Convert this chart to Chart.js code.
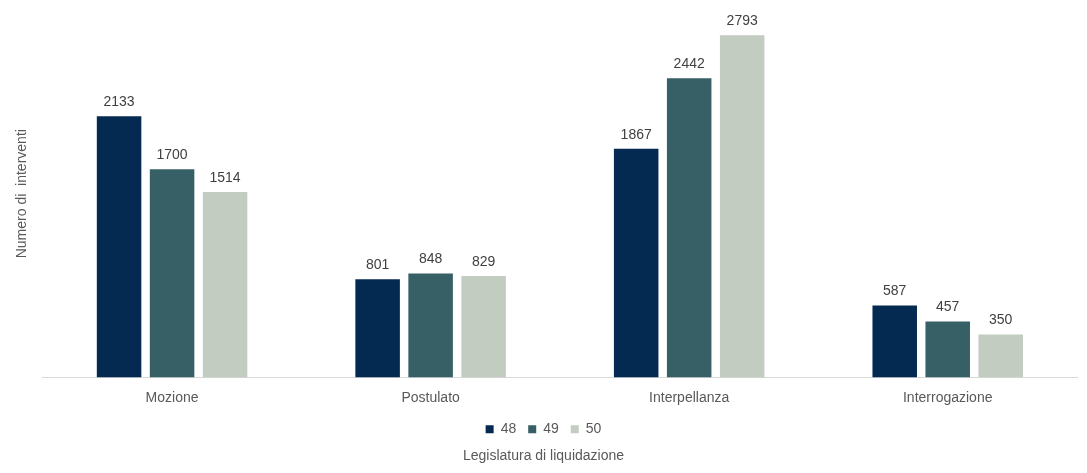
<!DOCTYPE html>
<html><head><meta charset="utf-8">
<script src="https://cdn.jsdelivr.net/npm/chart.js@4/dist/chart.umd.min.js"></script>
<style>html,body{margin:0;padding:0;background:#fff}#w{width:1087px;height:473px}</style>
</head><body><div id="w"><canvas id="c"></canvas></div>
<script>
const categories=["Mozione","Postulato","Interpellanza","Interrogazione"];
const seriesNames=["48","49","50"];
const s48=[2133,801,1867,587];
const s49=[1700,848,2442,457];
const s50=[1514,829,2793,350];
const colors=["#052a52","#365f66","#c3ccc1"];
const F="'Liberation Sans', Arial, sans-serif";
const labelPlugin={id:"lbl",afterDatasetsDraw(ch){const c=ch.ctx;c.save();c.font="14px "+F;c.fillStyle="#404040";c.textAlign="center";c.textBaseline="bottom";
ch.data.datasets.forEach((d,i)=>{ch.getDatasetMeta(i).data.forEach((b,j)=>{c.fillText(d.data[j],b.x,b.y-7);});});c.restore();}};
new Chart(document.getElementById("c"),{type:"bar",
data:{labels:categories,datasets:[s48,s49,s50].map((d,i)=>({label:seriesNames[i],data:d,backgroundColor:colors[i],barPercentage:0.84,categoryPercentage:0.615}))},
options:{responsive:true,maintainAspectRatio:false,animation:false,
layout:{padding:{left:10,right:10,top:10,bottom:8}},
plugins:{legend:{position:"bottom",labels:{boxWidth:8,boxHeight:8,font:{family:F,size:14},color:"#595959",padding:12}},
title:{display:true,position:"bottom",text:"Legislatura di liquidazione",font:{family:F,size:14,weight:"normal"},color:"#595959",padding:{top:2,bottom:0}},tooltip:{enabled:false}},
scales:{x:{grid:{display:false},border:{color:"#d9d9d9"},ticks:{font:{family:F,size:14},color:"#595959",padding:4}},
y:{min:0,max:3000,grid:{display:false},border:{display:false},ticks:{display:false},title:{display:true,text:"Numero di  interventi",font:{family:F,size:14},color:"#595959"}}}},
plugins:[labelPlugin]});
</script></body></html>
